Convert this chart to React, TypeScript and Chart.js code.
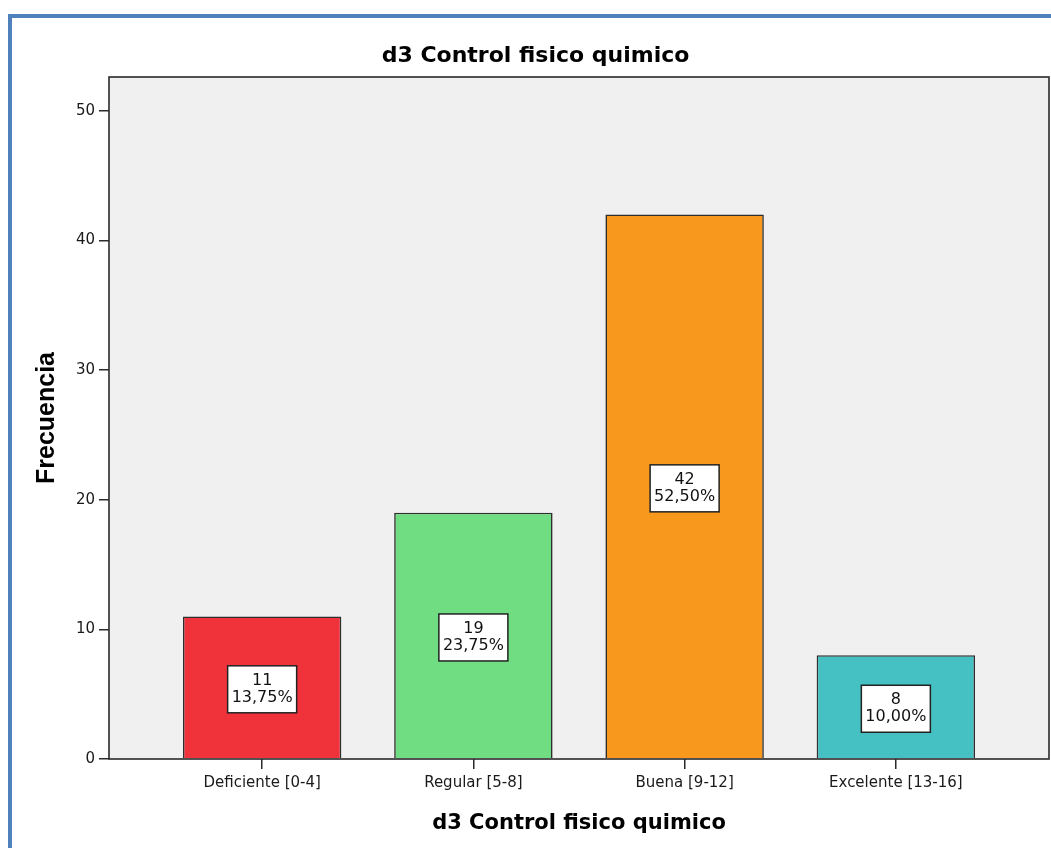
import React, { useEffect, useRef } from "react";
import { Chart, registerables } from "chart.js";

Chart.register(...registerables);

const categories = ["Deficiente [0-4]", "Regular [5-8]", "Buena [9-12]", "Excelente [13-16]"];
const counts = [11, 19, 42, 8];
const barColors = ["#f0323b", "#70dd83", "#f8991e", "#45c1c3"];
const yTicks = [0, 10, 20, 30, 40, 50];
const titleText = "d3 Control fisico quimico";
const xTitle = "d3 Control fisico quimico";
const yTitle = "Frecuencia";

const total = counts.reduce((a, b) => a + b, 0);
const percentLabels = counts.map((c) => ((c / total) * 100).toFixed(2).replace(".", ",") + "%");

const framePlugin = {
  id: "framePlugin",
  beforeDraw(chart: any) {
    const { ctx, chartArea } = chart;
    ctx.save();
    ctx.fillStyle = "#f0f0f0";
    ctx.fillRect(chartArea.left, chartArea.top, chartArea.right - chartArea.left, chartArea.bottom - chartArea.top);
    ctx.restore();
  },
  afterDatasetsDraw(chart: any) {
    const { ctx, chartArea } = chart;
    ctx.save();
    ctx.strokeStyle = "#2a2a2a";
    ctx.lineWidth = 1.6;
    ctx.strokeRect(chartArea.left, chartArea.top, chartArea.right - chartArea.left, chartArea.bottom - chartArea.top);
    const meta = chart.getDatasetMeta(0);
    ctx.font = "16px 'DejaVu Sans'";
    ctx.textAlign = "center";
    ctx.textBaseline = "middle";
    meta.data.forEach((el: any, i: number) => {
      const cx = el.x;
      const cy = (el.y + el.base) / 2 + 2;
      const lines = [String(counts[i]), percentLabels[i]];
      const w = Math.max(...lines.map((l) => ctx.measureText(l).width)) + 8;
      const h = 47;
      ctx.fillStyle = "#ffffff";
      ctx.fillRect(cx - w / 2, cy - h / 2, w, h);
      ctx.strokeStyle = "#222222";
      ctx.lineWidth = 1.5;
      ctx.strokeRect(cx - w / 2, cy - h / 2, w, h);
      ctx.fillStyle = "#111111";
      ctx.fillText(lines[0], cx, cy - 8.5);
      ctx.fillText(lines[1], cx, cy + 8.5);
    });
    ctx.restore();
  },
};

export default function App() {
  const ref = useRef<HTMLCanvasElement | null>(null);
  useEffect(() => {
    document.body.style.marginRight = "0";
    document.documentElement.style.overflow = "hidden";
    if (!ref.current) return;
    const chart = new Chart(ref.current, {
      type: "bar",
      data: {
        datasets: [
          {
            data: counts.map((v, i) => ({ x: i, y: v })),
            backgroundColor: barColors,
            borderColor: "#2e2e2e",
            borderWidth: 1.6,
            barPercentage: 0.75,
            categoryPercentage: 1,
          },
        ],
      },
      options: {
        responsive: false,
        animation: false,
        layout: { padding: { left: 10, right: 2, top: 0, bottom: 0 } },
        plugins: {
          legend: { display: false },
          tooltip: { enabled: false },
          title: {
            display: true,
            text: titleText,
            color: "#000000",
            font: { family: "'DejaVu Sans'", size: 22, weight: "bold" },
            padding: { top: 24.8, bottom: 7.8 },
          },
        },
        scales: {
          x: {
            type: "linear",
            min: -0.725,
            max: 3.725,
            offset: false,
            afterBuildTicks: (scale: any) => {
              scale.ticks = categories.map((_, i) => ({ value: i }));
            },
            afterFit: (scale: any) => {
              scale.height = 89;
            },
            ticks: {
              autoSkip: false,
              maxRotation: 0,
              padding: 5,
              color: "#1a1a1a",
              font: { family: "'DejaVu Sans'", size: 15 },
              callback: (v: any) => categories[v] ?? "",
            },
            grid: { display: true, drawOnChartArea: false, drawTicks: true, tickLength: 10, color: "#2a2a2a", lineWidth: 1.5, offset: false },
            border: { display: false },
            title: {
              display: true,
              text: xTitle,
              color: "#000000",
              font: { family: "'DejaVu Sans'", size: 21, weight: "bold" },
              padding: { top: 0, bottom: 11.4 },
            },
          },
          y: {
            min: 0,
            max: 52.6,
            afterBuildTicks: (scale: any) => {
              scale.ticks = yTicks.map((v) => ({ value: v }));
            },
            afterFit: (scale: any) => {
              scale.width = 87;
            },
            ticks: {
              padding: 4,
              color: "#1a1a1a",
              font: { family: "'DejaVu Sans'", size: 15 },
            },
            grid: { display: true, drawOnChartArea: false, drawTicks: true, tickLength: 10, color: "#2a2a2a", lineWidth: 1.5 },
            border: { display: false },
            title: {
              display: true,
              text: yTitle,
              color: "#000000",
              font: { family: "'Liberation Sans'", size: 25, weight: "bold" },
              padding: { top: 10, bottom: 0 },
            },
          },
        },
      },
      plugins: [framePlugin],
    } as any);
    return () => chart.destroy();
  }, []);

  return (
    <div style={{ paddingTop: 6 }}>
      <div
        style={{
          width: 1039,
          height: 830,
          borderTop: "4px solid #4f81bd",
          borderLeft: "4px solid #4f81bd",
        }}
      >
        <canvas ref={ref} width={1039} height={830} style={{ display: "block", width: 1039, height: 830 }} />
      </div>
    </div>
  );
}
